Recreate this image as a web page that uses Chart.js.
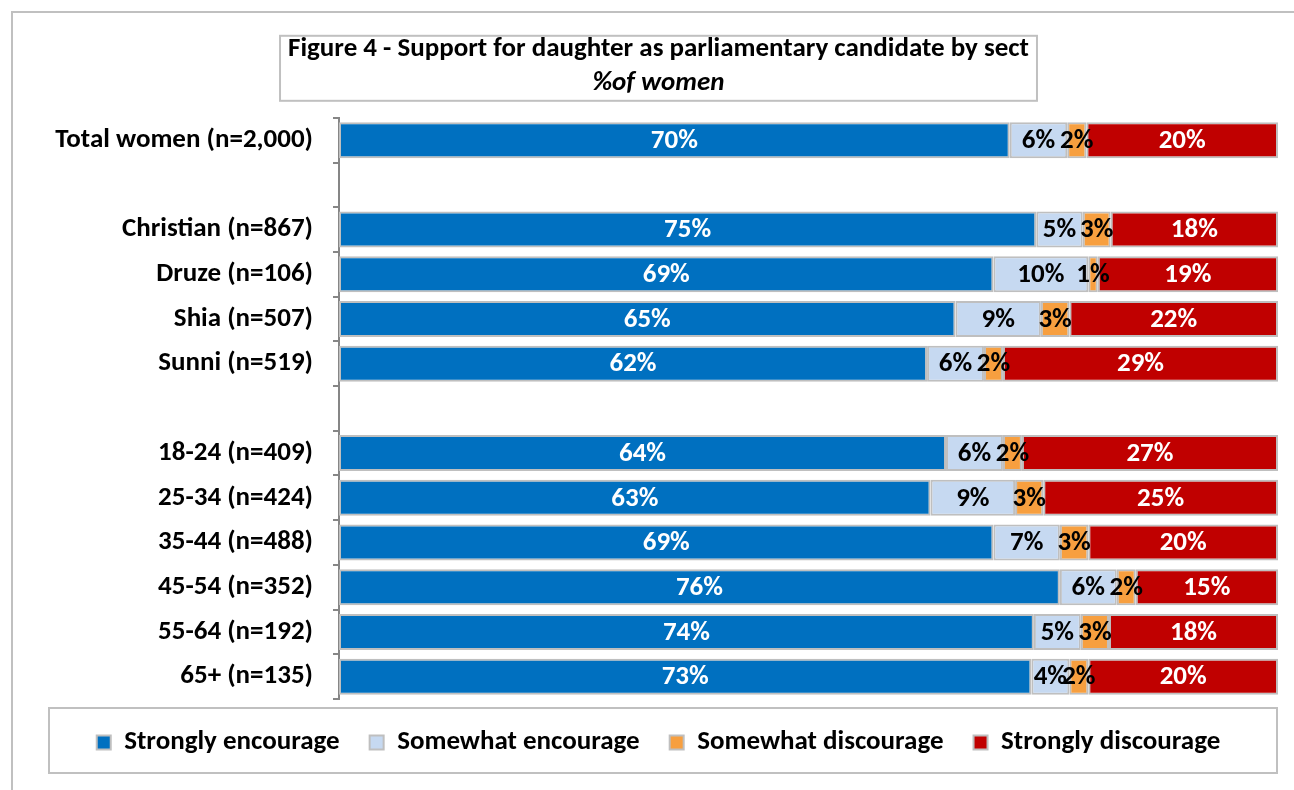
<!DOCTYPE html>
<html>
<head>
<meta charset="utf-8">
<title>Support for daughter as parliamentary candidate</title>
<script src="https://cdn.jsdelivr.net/npm/chart.js@4/dist/chart.umd.min.js"></script>
<style>
  html, body { margin: 0; padding: 0; background: #fff; }
  canvas { display: block; }
</style>
</head>
<body>
<canvas id="chartDaughter" width="1294" height="790"></canvas>
<script>
// rows, blank strings leave an empty gap between groups
const groups = [
  "Total women (n=2,000)", "",
  "Christian (n=867)", "Druze (n=106)", "Shia (n=507)", "Sunni (n=519)", "",
  "18-24 (n=409)", "25-34 (n=424)", "35-44 (n=488)", "45-54 (n=352)", "55-64 (n=192)", "65+ (n=135)"
];
const seriesNames = ["Strongly encourage", "Somewhat encourage", "Somewhat discourage", "Strongly discourage"];
const strongEnc = [70, null, 75, 69, 65, 62, null, 64, 63, 69, 76, 74, 73];
const someEnc   = [6,  null, 5,  10, 9,  6,  null, 6,  9,  7,  6,  5,  4];
const someDis   = [2,  null, 3,  1,  3,  2,  null, 2,  3,  3,  2,  3,  2];
const strongDis = [20, null, 18, 19, 22, 29, null, 27, 25, 20, 15, 18, 20];

const FONT = "Carlito, 'Open Sans', sans-serif";
const FS = 27;
const colors = ["#0070C0", "#C6D9F1", "#F79F3F", "#C00000"];
const labelColors = ["#fff", "#000", "#000", "#fff"];
const raw = [strongEnc, someEnc, someDis, strongDis];

// each row is stretched to 100% of the bar width
const rowTotals = groups.map((g, j) => raw.reduce((s, arr) => s + (arr[j] || 0), 0));
const share = arr => arr.map((v, j) => (v == null ? null : (v / rowTotals[j]) * 100));

const framesPlugin = {
  id: "frames",
  beforeDraw(chart) {
    const { ctx, chartArea } = chart;
    ctx.save();
    ctx.strokeStyle = "#c0c0c0";
    ctx.lineWidth = 2;
    // outer frame
    ctx.beginPath();
    ctx.moveTo(12, chart.height);
    ctx.lineTo(12, 12);
    ctx.lineTo(chart.width, 12);
    ctx.stroke();
    // box around the title
    ctx.font = "bold " + FS + "px " + FONT;
    const tw = ctx.measureText(chart.options.plugins.title.text).width;
    const cx = (chart.titleBlock.left + chart.titleBlock.right) / 2;
    ctx.strokeRect(cx - tw / 2 - 8, chartArea.top - 82, tw + 16, 65);
    // box around the legend
    ctx.strokeRect(chartArea.left - 290, chartArea.bottom + 9, chartArea.right - chartArea.left + 289, 65);
    ctx.restore();
  }
};

const valueLabels = {
  id: "valueLabels",
  afterDatasetsDraw(chart) {
    const { ctx } = chart;
    ctx.save();
    ctx.font = "bold " + FS + "px " + FONT;
    ctx.textAlign = "center";
    ctx.textBaseline = "middle";
    chart.data.datasets.forEach((ds, i) => {
      chart.getDatasetMeta(i).data.forEach((bar, j) => {
        const v = raw[i][j];
        if (v == null) return;
        const p = bar.getCenterPoint();
        ctx.fillStyle = labelColors[i];
        ctx.fillText(v + "%", p.x, p.y + 1);
      });
    });
    ctx.restore();
  }
};

new Chart(document.getElementById("chartDaughter"), {
  type: "bar",
  data: {
    labels: groups,
    datasets: raw.map((arr, i) => ({
      label: seriesNames[i],
      data: share(arr),
      backgroundColor: colors[i],
      borderColor: "#bfbfbf",
      borderWidth: 2,
      borderSkipped: false,
      barPercentage: 1,
      categoryPercentage: 0.805,
    })),
  },
  options: {
    indexAxis: "y",
    responsive: false,
    animation: false,
    devicePixelRatio: 1,
    layout: { padding: { top: 0, left: 39, right: 16, bottom: 24 } },
    scales: {
      x: { stacked: true, min: 0, max: 100, display: false },
      y: {
        stacked: true,
        afterFit(scale) { scale.width = 300; },
        grid: { offset: true, drawOnChartArea: false, tickLength: 6, color: "#868686", lineWidth: 2 },
        border: { color: "#868686", width: 2 },
        ticks: { color: "#000", padding: 20, font: { family: FONT, size: FS, weight: "bold" } },
      },
    },
    plugins: {
      title: {
        display: true,
        text: "Figure 4 - Support for daughter as parliamentary candidate by sect",
        color: "#000",
        padding: { top: 33, bottom: 0 },
        font: { family: FONT, size: FS, weight: "bold", lineHeight: 1.2 },
      },
      subtitle: {
        display: true,
        text: "%of women",
        color: "#000",
        padding: { top: 2, bottom: 18 },
        font: { family: FONT, size: FS, weight: "bold", style: "italic", lineHeight: 1.2 },
      },
      legend: {
        position: "bottom",
        labels: {
          color: "#000",
          boxWidth: 14,
          boxHeight: 14,
          padding: 30,
          font: { family: FONT, size: FS, weight: "bold" },
        },
      },
      tooltip: { enabled: false },
    },
  },
  plugins: [framesPlugin, valueLabels],
});
</script>
</body>
</html>
